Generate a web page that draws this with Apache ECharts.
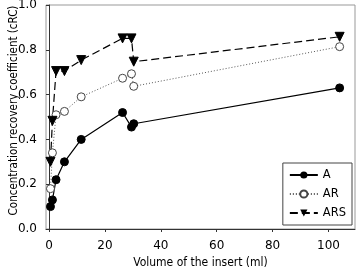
<!DOCTYPE html>
<html>
<head>
<meta charset="utf-8">
<script src="https://cdn.jsdelivr.net/npm/echarts@6/dist/echarts.min.js"></script>
<style>
  html, body { margin: 0; padding: 0; background: #fff; }
  #chart { width: 358px; height: 276px; }
</style>
</head>
<body>
<div id="chart"></div>
<script>
var volumes = [0.5, 1.2, 2.5, 5.5, 11.5, 26.3, 29.5, 30.3, 104];
var valuesA = [0.10, 0.13, 0.22, 0.30, 0.40, 0.52, 0.455, 0.47, 0.63];
var valuesAR = [0.18, 0.34, 0.51, 0.525, 0.59, 0.673, 0.693, 0.637, 0.814];
var valuesARS = [0.30, 0.483, 0.705, 0.705, 0.754, 0.851, 0.851, 0.747, 0.858];
var xTicks = [0, 20, 40, 60, 80, 100];

function pairs(vals) {
    return vals.map(function (v, i) { return [volumes[i], v]; });
}

var font = 'DejaVu Sans';
var nameFont = 'DejaVu Sans Condensed';
var chart = echarts.init(document.getElementById('chart'));

var option = {
    animation: false,
    textStyle: { fontFamily: font },
    grid: {
        left: 46,
        right: 3,
        top: 5,
        bottom: 47,
        containLabel: false,
        outerBoundsMode: 'none',
        show: true,
        borderColor: '#999',
        borderWidth: 1
    },
    legend: {
        right: 6,
        top: 163,
        orient: 'vertical',
        itemWidth: 28,
        itemHeight: 9,
        itemGap: 7,
        padding: [6, 6, 6, 6],
        borderColor: '#444',
        borderWidth: 1,
        backgroundColor: '#fff',
        textStyle: { fontFamily: font, fontSize: 11.5, color: '#000' },
        data: ['A', 'AR', 'ARS']
    },
    xAxis: {
        type: 'value',
        min: -1.1,
        max: 109.5,
        name: 'Volume of the insert (ml)',
        nameLocation: 'middle',
        nameGap: 23,
        nameTextStyle: { fontFamily: nameFont, fontSize: 12, color: '#000' },
        splitLine: { show: false },
        axisLine: { onZero: false, lineStyle: { color: '#333', width: 1 } },
        axisTick: { show: true, length: 3, customValues: xTicks, lineStyle: { color: '#333' } },
        axisLabel: { customValues: xTicks, fontSize: 12, color: '#000', margin: 11 }
    },
    yAxis: {
        type: 'value',
        min: 0,
        max: 1,
        interval: 0.2,
        name: 'Concentration recovery coefficient (cRC)',
        nameLocation: 'middle',
        nameGap: 26,
        nameMoveOverlap: false,
        nameTextStyle: { fontFamily: nameFont, fontSize: 11.5, color: '#000', padding: [0, 0, 0, 13] },
        splitLine: { show: false },
        axisLine: { show: true, lineStyle: { color: '#333', width: 1 } },
        axisTick: { show: true, length: 3, lineStyle: { color: '#333' } },
        axisLabel: {
            fontSize: 12,
            color: '#000',
            margin: 9,
            formatter: function (v) { return v.toFixed(1); }
        }
    },
    series: [{
        name: 'A',
        type: 'line',
        data: pairs(valuesA),
        symbol: 'circle',
        symbolSize: 8,
        itemStyle: { color: '#000', borderColor: '#000' },
        lineStyle: { color: '#000', width: 1.2, type: 'solid' }
    }, {
        name: 'AR',
        type: 'line',
        data: pairs(valuesAR),
        symbol: 'circle',
        symbolSize: 8,
        itemStyle: { color: '#fff', borderColor: '#444', borderWidth: 1 },
        lineStyle: { color: '#555', width: 1, type: [1, 2] }
    }, {
        name: 'ARS',
        type: 'line',
        data: pairs(valuesARS),
        symbol: 'triangle',
        symbolRotate: 180,
        symbolSize: 9,
        itemStyle: { color: '#000', borderColor: '#000' },
        lineStyle: { color: '#000', width: 1.2, type: [8, 4] }
    }]
};

chart.setOption(option);
</script>
</body>
</html>
